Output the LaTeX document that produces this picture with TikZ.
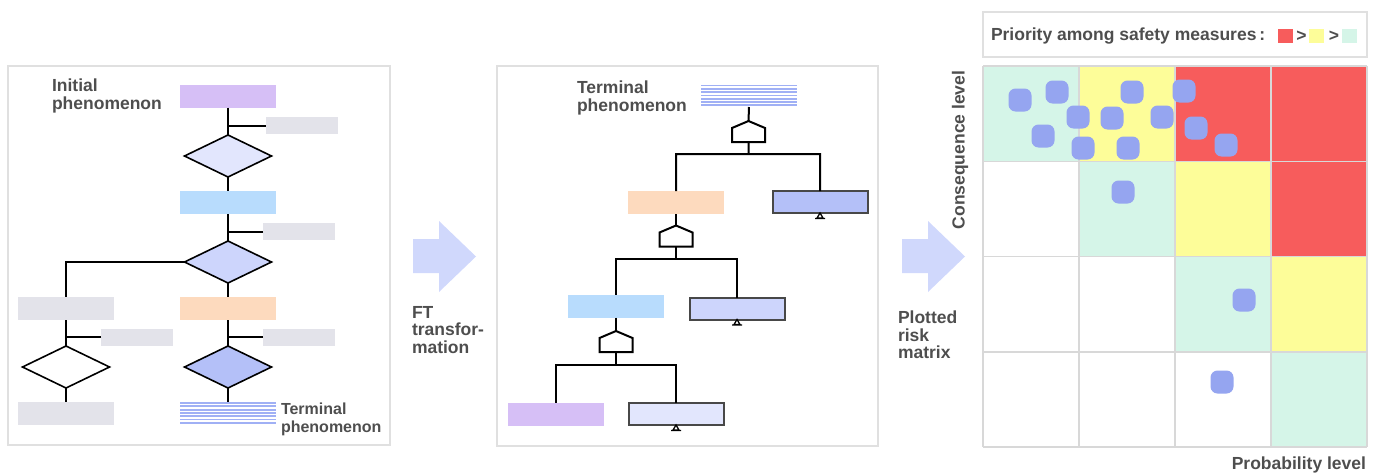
\documentclass[tikz,border=0pt]{standalone}
\usepackage{fontspec}
\setmainfont{Liberation Sans}
\usetikzlibrary{shapes.geometric}
\definecolor{txtgray}{RGB}{78,78,78}
\definecolor{cframe}{RGB}{224,224,224}
\definecolor{cgrid}{RGB}{216,216,216}
\definecolor{cpurple}{RGB}{214,191,246}
\definecolor{cgray}{RGB}{227,227,234}
\definecolor{cblue}{RGB}{184,220,253}
\definecolor{corange}{RGB}{253,218,190}
\definecolor{cdiaA}{RGB}{226,230,253}
\definecolor{cdiaB}{RGB}{205,213,252}
\definecolor{cdiaC}{RGB}{180,192,248}
\definecolor{cstack}{RGB}{160,176,245}
\definecolor{carrow}{RGB}{208,216,252}
\definecolor{cdot}{RGB}{149,165,240}
\definecolor{cred}{RGB}{247,92,92}
\definecolor{cyellow}{RGB}{253,253,153}
\definecolor{cgreen}{RGB}{213,245,232}
\definecolor{evtline}{RGB}{72,72,72}

\begin{document}
\begin{tikzpicture}[x=1pt,y=-1pt,
  every node/.style={inner sep=0pt,outer sep=0pt},
  lbl/.style={align=left,text=txtgray,font=\fontsize{17.5}{17.5}\selectfont\bfseries,anchor=north west},
  box/.style={minimum width=96,minimum height=23},
  sbox/.style={minimum width=72,minimum height=17,fill=cgray},
  dia/.style={diamond,draw,line width=1.6pt,minimum width=87,minimum height=42},
  evt/.style={draw=evtline,line width=2pt,minimum width=95,minimum height=22},
  gate/.style={minimum width=33,minimum height=21},
  conn/.style={line width=2pt},
  frame/.style={draw=cframe,line width=2pt},
  dot/.style={fill=cdot,rounded corners=7pt,minimum size=23}]
\useasboundingbox (0,0) rectangle (1375,472);

\draw[frame] (8,66) rectangle (390,445);
\draw[frame] (497,66) rectangle (878,446);

\node[box,fill=cpurple] (init) at (228,96) {};
\node[sbox] (grA) at (301.5,125.5) {};
\node[dia,fill=cdiaA] (dA) at (228,156) {};
\node[box,fill=cblue] (bluA) at (228,202.5) {};
\node[sbox] (grB) at (299,231.5) {};
\node[dia,fill=cdiaB] (dB) at (228,262) {};
\node[box,fill=cgray] (glA) at (66,308.5) {};
\node[sbox] (grC) at (137,337) {};
\node[dia,fill=white] (dD) at (66,367) {};
\node[box,fill=cgray] (glB) at (66,413.5) {};
\node[box,fill=corange] (orA) at (228,308.5) {};
\node[sbox] (grD) at (299,337) {};
\node[dia,fill=cdiaC] (dC) at (228,367) {};
\node[box] (stkL) at (228,413) {};

\draw[conn] (init) -- (dA) (dA) -- (bluA) (bluA) -- (dB) (dB) -- (orA) (orA) -- (dC) (dC) -- (stkL);
\draw[conn] (dB.west) -| (glA) (glA) -- (dD) (dD) -- (glB);
\draw[conn] (grA) -- (grA -| init) (grB) -- (grB -| bluA) (grC) -- (grC -| glA) (grD) -- (grD -| orA);

\node[box] (stkM) at (749,95.5) {};
\node[gate] (ga) at (748.5,131.5) {};
\coordinate (ja) at (748.5,154);
\node[box,fill=corange] (orB) at (676,202.5) {};
\node[evt,fill=cdiaC] (evA) at (820,202) {};
\node[gate] (gb) at (676,236) {};
\coordinate (jb) at (676,259);
\node[box,fill=cblue] (bluB) at (616,306) {};
\node[evt,fill=cdiaB] (evB) at (737,308.5) {};
\node[gate] (gc) at (616,341.5) {};
\coordinate (jc) at (616,365);
\node[box,fill=cpurple] (iniB) at (556,414) {};
\node[evt,fill=cdiaA] (evC) at (676,414) {};

\foreach \g in {ga,gb,gc} \draw[conn,fill=white] (\g.south west) -- ++(0,-14) -- (\g.north) -- ++(16.5,7) -- ++(0,14) -- cycle;
\draw[conn] (stkM) -- (ga) (ga) -- (ja) (orB) |- (ja) -| (evA);
\draw[conn] (orB) -- (gb) (gb) -- (jb) (bluB) |- (jb) -| (evB);
\draw[conn] (bluB) -- (gc) (gc) -- (jc) (iniB) |- (jc) -| (evC);
\foreach \e in {evA,evB,evC} \draw[line width=1.3pt] (\e.south) -- ++(-3,5) -- ++(6,0) -- cycle ([xshift=-5pt,yshift=-5.5pt]\e.south) -- ++(10,0);

\foreach \s in {stkL,stkM} \foreach \k in {0,...,6} \draw[cstack,line width=1.8pt] ([yshift=-1.5pt-3.3pt*\k]\s.north west) -- ([yshift=-1.5pt-3.3pt*\k]\s.north east);

\foreach \s in {0,489} \fill[carrow,xshift=\s] (413,239) -- (439,239) -- (439,221) -- (476,256.5) -- (439,292) -- (439,273) -- (413,273) -- cycle;

\node[lbl] (tInit) at (52,79) {Initial\\phenomenon};
\node[lbl,font=\fontsize{16}{17.5}\selectfont\bfseries] (tTermL) at (281,403) {Terminal\\phenomenon};
\node[lbl] (tTermM) at (577,81) {Terminal\\phenomenon};
\node[lbl] (tFT) at (412,306) {FT\\transfor-\\mation};
\node[lbl] (tPlot) at (898,311) {Plotted\\risk\\matrix};

\node[frame,minimum width=384,minimum height=45] (lgd) at (1175,34.5) {};
\node[lbl,anchor=west] (tPrio) at (991,36) {Priority among safety measures\,:};
\node[fill=cred,minimum width=15,minimum height=14] (lr) at (1285,36) {};
\node[fill=cyellow,minimum width=15,minimum height=14] (ly) at (1316.5,36) {};
\node[fill=cgreen,minimum width=15,minimum height=14] (lg) at (1349,36) {};
\node[lbl,anchor=center] (gtA) at (1301.5,36) {>};
\node[lbl,anchor=center] (gtB) at (1334,36) {>};

\foreach \row [count=\r from 0] in {{cgreen,cyellow,cred,cred},{white,cgreen,cyellow,cred},{white,white,cgreen,cyellow},{white,white,white,cgreen}}
  \foreach \c [count=\k from 0] in \row
    \fill[\c] (983+96*\k,66+95.25*\r) rectangle ++(96,95.25);
\foreach \k in {0,...,4} \draw[cgrid,line width=1.5pt] (983+96*\k,66) -- (983+96*\k,447) (983,66+95.25*\k) -- (1367,66+95.25*\k);

\foreach \px/\py [count=\i] in {1020/100,1057/92,1078/117,1043/136,1083/148,1132/92,1112/118,1162/117,1128/148,1184/91,1196/128,1226/145,1123/192,1244/300,1222/382}
  \node[dot] (pt\i) at (\px,\py) {};

\node[lbl,rotate=90,anchor=center] (tCons) at (960,150) {Consequence level};
\node[lbl,anchor=north east] (tProb) at (1366,457) {Probability level};
\end{tikzpicture}
\end{document}
